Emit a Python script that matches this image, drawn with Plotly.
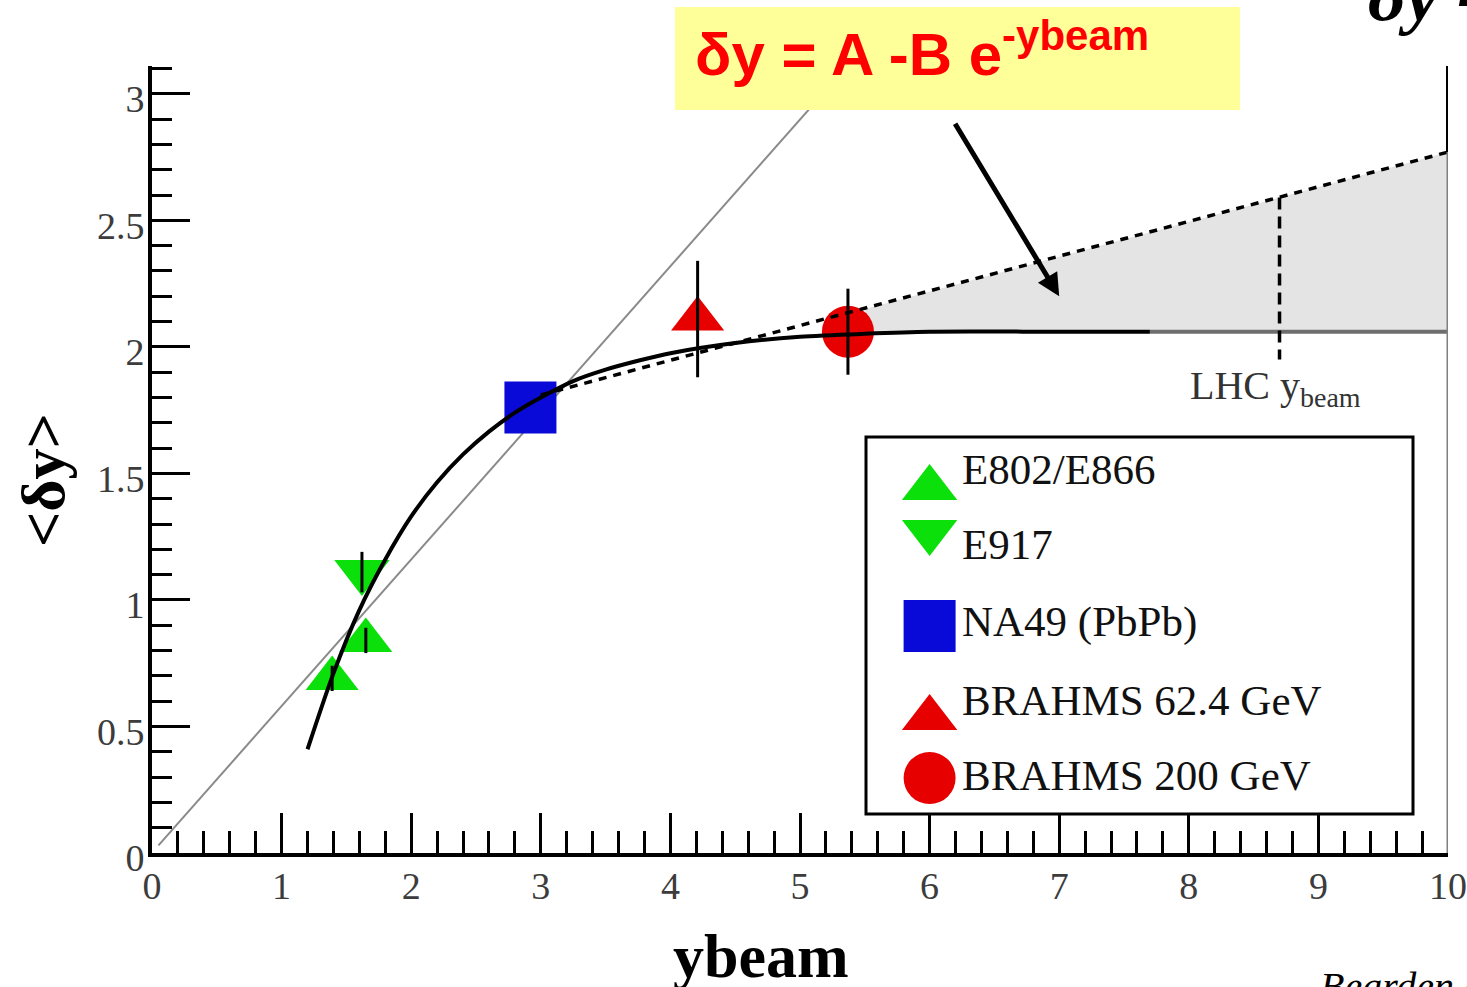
import plotly.graph_objects as go

# ---------------- data ----------------
# linear scaling line
lin_x = [0.05, 5.40]
lin_y = [0.03, 3.13]

# fit curve  dy = A - B exp(-ybeam)
fit_x = [1.2, 1.4, 1.6, 1.8, 2.0, 2.2, 2.4, 2.6, 2.8, 3.0, 3.25, 3.5, 3.75, 4.0, 4.5, 5.0, 5.5, 6.0, 7.0, 7.7]
fit_y = [0.41, 0.71, 0.96, 1.16, 1.33, 1.465, 1.575, 1.665, 1.74, 1.80, 1.865, 1.91, 1.945, 1.975, 2.015,
         2.04, 2.052, 2.06, 2.06, 2.06]
fit_tail_x = [7.7, 10.0]
fit_tail_y = [2.06, 2.06]

# dotted linear extrapolation
dot_x = [3.0, 10.0]
dot_y = [1.81, 2.77]

# shaded band between extrapolations
band_x = [5.5, 10.0]
band_upper = [2.15, 2.77]
band_lower = [2.06, 2.06]

# LHC beam rapidity marker
lhc_x = [8.7, 8.7]
lhc_y = [2.59, 1.95]

# data points
e802_x = [1.39, 1.65]
e802_y = [0.69, 0.84]
e802_err = [0.05, 0.05]

e917_x = [1.62]
e917_y = [1.11]
e917_err = [0.08]

na49_x = [2.92]
na49_y = [1.76]

b62_x = [4.21]
b62_y = [2.11]
b62_err = [0.23]

b200_x = [5.37]
b200_y = [2.06]
b200_err = [0.17]

legend_names = ["E802/E866", "E917", "NA49 (PbPb)", "BRAHMS 62.4 GeV", "BRAHMS 200 GeV"]

GREEN = "#0be00b"
BLUE = "#0a0ad8"
RED = "#e60000"
SERIF = "Liberation Serif"

fig = go.Figure()

# shaded band
fig.add_trace(go.Scatter(x=band_x, y=band_lower, mode="lines", line=dict(width=0),
                         showlegend=False, hoverinfo="skip"))
fig.add_trace(go.Scatter(x=band_x, y=band_upper, mode="lines", line=dict(width=0),
                         fill="tonexty", fillcolor="#e4e4e4", showlegend=False, hoverinfo="skip"))

# linear scaling line
fig.add_trace(go.Scatter(x=lin_x, y=lin_y, mode="lines",
                         line=dict(color="#8a8a8a", width=2), showlegend=False))

# markers
fig.add_trace(go.Scatter(x=e802_x, y=e802_y, mode="markers", showlegend=False,
                         marker=dict(symbol="triangle-up", size=46, color=GREEN, opacity=1, line=dict(width=0))))
fig.add_trace(go.Scatter(x=e917_x, y=e917_y, mode="markers", showlegend=False,
                         marker=dict(symbol="triangle-down", size=48, color=GREEN, opacity=1, line=dict(width=0))))
fig.add_trace(go.Scatter(x=na49_x, y=na49_y, mode="markers", showlegend=False,
                         marker=dict(symbol="square", size=52, color=BLUE, opacity=1, line=dict(width=0))))
fig.add_trace(go.Scatter(x=b62_x, y=b62_y, mode="markers", showlegend=False,
                         marker=dict(symbol="triangle-up", size=46, color=RED, opacity=1, line=dict(width=0))))
fig.add_trace(go.Scatter(x=b200_x, y=b200_y, mode="markers", showlegend=False,
                         marker=dict(symbol="circle", size=52, color=RED, opacity=1, line=dict(width=0))))

# fit curve
fig.add_trace(go.Scatter(x=fit_x, y=fit_y, mode="lines",
                         line=dict(color="black", width=4, shape="spline", smoothing=0.8),
                         showlegend=False))
fig.add_trace(go.Scatter(x=fit_tail_x, y=fit_tail_y, mode="lines", line=dict(color="#6e6e6e", width=4),
                         showlegend=False))
# dotted extrapolation
fig.add_trace(go.Scatter(x=dot_x, y=dot_y, mode="lines", line=dict(color="black", width=3.5, dash="8px,7px"),
                         showlegend=False))
# LHC dashed line
fig.add_trace(go.Scatter(x=lhc_x, y=lhc_y, mode="lines", line=dict(color="black", width=3.5, dash="12px,7px"),
                         showlegend=False))

# error bars drawn over the markers
for ex, ey, ee in [(e802_x, e802_y, e802_err), (e917_x, e917_y, e917_err),
                   (b62_x, b62_y, b62_err), (b200_x, b200_y, b200_err)]:
    fig.add_trace(go.Scatter(x=ex, y=ey, mode="markers", showlegend=False,
                             marker=dict(size=2, color="rgba(0,0,0,0)"),
                             error_y=dict(type="data", array=ee, color="black", thickness=3, width=0)))

# ---------------- manual legend (overlay axes 0..1 over the plot area) ----------------
leg_sym = ["triangle-up", "triangle-down", "square", "triangle-up", "circle"]
leg_col = [GREEN, GREEN, BLUE, RED, RED]
leg_size = [48, 48, 52, 48, 52]
leg_mx = [0.600] * 5
leg_my = [0.4638, 0.4079, 0.2884, 0.1715, 0.0953]
leg_ty = [0.4867, 0.3914, 0.2936, 0.1944, 0.0991]
for sx, sy, ss, sc, sz in zip(leg_mx, leg_my, leg_sym, leg_col, leg_size):
    fig.add_trace(go.Scatter(x=[sx], y=[sy], xaxis="x2", yaxis="y2", mode="markers", showlegend=False,
                             marker=dict(symbol=ss, size=sz, color=sc, opacity=1, line=dict(width=0))))

W, H = 1467, 987
L, R, T, B = 152, 1448, 66, 853


def px(xp):
    return (xp - L) / (R - L)


def py(yp):
    return (B - yp) / (B - T)


shapes = [
    # legend frame
    dict(type="rect", xref="paper", yref="paper", x0=px(866), x1=px(1413), y0=py(814), y1=py(437),
         line=dict(color="black", width=3), fillcolor="rgba(0,0,0,0)", layer="above"),
    # yellow formula box
    dict(type="rect", xref="paper", yref="paper", x0=px(675), x1=px(1240), y0=py(110), y1=py(7),
         line=dict(width=0), fillcolor="#ffff99", layer="above"),
    # right frame line
    dict(type="line", xref="x", yref="y", x0=10, x1=10, y0=0, y1=2.77,
         line=dict(color="#808080", width=3)),
    dict(type="line", xref="x", yref="paper", x0=10, x1=10, y0=py(152), y1=1,
         line=dict(color="black", width=4)),
]

annotations = []
for name, ty in zip(legend_names, leg_ty):
    annotations.append(dict(xref="paper", yref="paper", x=px(960), y=ty, xanchor="left", yanchor="middle",
                            text=name, showarrow=False, font=dict(family=SERIF, size=43, color="#111")))

annotations += [
    dict(xref="paper", yref="paper", x=px(693), y=py(50), xanchor="left", yanchor="middle",
         text="δy = A -B e<sup>-ybeam</sup>", showarrow=False,
         font=dict(family="Liberation Sans", size=60, color="#ff0000", weight="bold")),
    dict(xref="x", yref="y", x=7.0, y=2.20, ax=-105, ay=-174, text="", showarrow=True,
         arrowhead=2, arrowsize=0.9, arrowwidth=5, arrowcolor="black", standoff=0),
    dict(xref="paper", yref="paper", x=px(1188), y=py(388), xanchor="left", yanchor="middle",
         text="LHC y<sub>beam</sub>", showarrow=False, font=dict(family=SERIF, size=40, color="#333")),
    dict(xref="paper", yref="paper", x=px(761), y=py(920), xanchor="center", yanchor="top",
         text="<b>ybeam</b>", showarrow=False, font=dict(family=SERIF, size=62, color="black")),
    dict(xref="paper", yref="paper", x=px(43), y=py(480), xanchor="center", yanchor="middle",
         text="<b>&lt;δy&gt;</b>", textangle=-90, showarrow=False,
         font=dict(family=SERIF, size=62, color="black")),
    dict(xref="paper", yref="paper", x=px(1366), y=py(38), xanchor="left", yanchor="bottom",
         text="<b><i>δy -</i></b>", showarrow=False, font=dict(family=SERIF, size=74, color="black")),
    dict(xref="paper", yref="paper", x=px(1318), y=py(962), xanchor="left", yanchor="top",
         text="<i>Bearden et al.</i>", showarrow=False, font=dict(family=SERIF, size=40, color="black")),
]

tickfont = dict(family=SERIF, size=38, color="#3c3c3c")
fig.update_layout(
    width=W, height=H, autosize=False,
    margin=dict(l=L, r=W - R, t=T, b=H - B, pad=0, autoexpand=False),
    paper_bgcolor="white", plot_bgcolor="white",
    showlegend=False,
    shapes=shapes, annotations=annotations,
    xaxis=dict(range=[0, 10], showline=True, linecolor="black", linewidth=4, mirror=False,
               ticks="inside", ticklen=40, tickwidth=3, tickcolor="black", tick0=0, dtick=1,
               minor=dict(ticks="inside", dtick=0.2, ticklen=22, tickwidth=3, tickcolor="black"),
               showgrid=False, zeroline=False, tickfont=tickfont, ticklabelstandoff=-4,
               automargin=False),
    yaxis=dict(range=[0, 3.11], showline=True, linecolor="black", linewidth=4, mirror=False,
               ticks="inside", ticklen=38, tickwidth=3, tickcolor="black", tick0=0, dtick=0.5,
               minor=dict(ticks="inside", dtick=0.1, ticklen=20, tickwidth=3, tickcolor="black"),
               showgrid=False, zeroline=False, tickfont=tickfont, ticklabelstandoff=-4,
               ticklabelshift=5, automargin=False),
    xaxis2=dict(overlaying="x", range=[0, 1], visible=False, fixedrange=True, automargin=False),
    yaxis2=dict(overlaying="y", range=[0, 1], visible=False, fixedrange=True, automargin=False),
)

fig.write_html("out.html",
               config={"displayModeBar": False, "responsive": False},
               post_script="document.body.style.margin='0';document.body.style.overflow='hidden';")
